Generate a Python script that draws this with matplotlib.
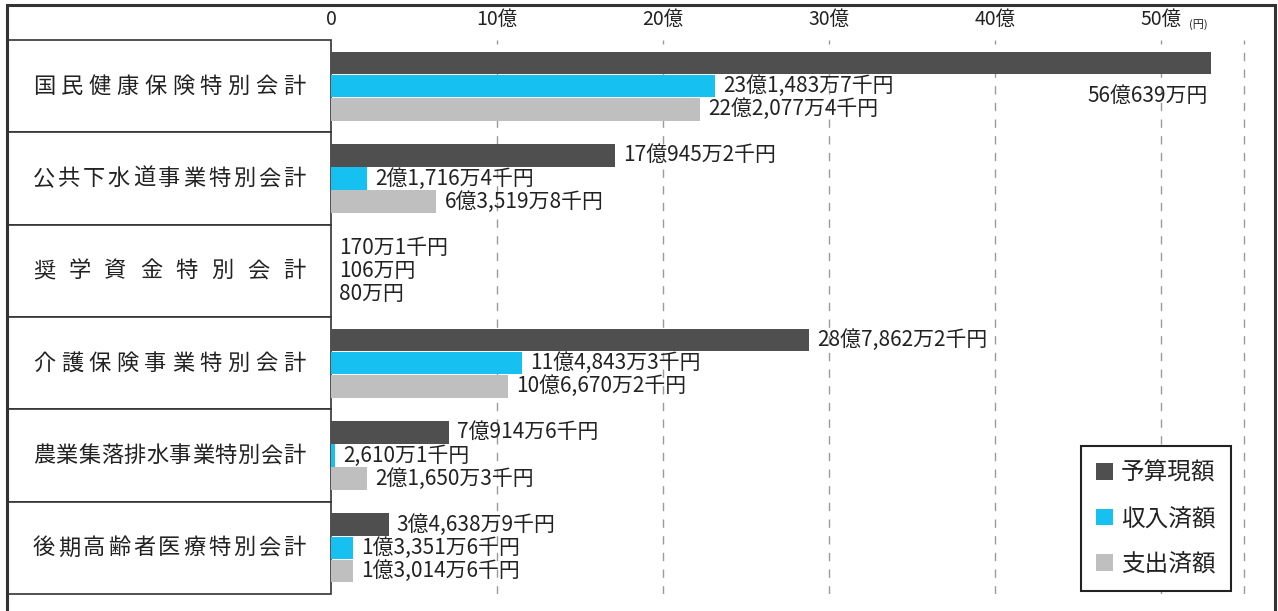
import matplotlib.pyplot as plt
from matplotlib.patches import Rectangle

plt.rcParams['font.family'] = ['Noto Sans CJK JP', 'DejaVu Sans']

#---------- datos (円) ----------
categories = ['国民健康保険特別会計', '公共下水道事業特別会計', '奨学資金特別会計',
              '介護保険事業特別会計', '農業集落排水事業特別会計', '後期高齢者医療特別会計']
series_names = ['予算現額', '収入済額', '支出済額']
budget = [5606390000, 1709452000, 1701000, 2878622000, 709146000, 346389000]
income = [2314837000, 217164000, 1060000, 1148433000, 26101000, 133516000]
expense = [2220774000, 635198000, 800000, 1066702000, 216503000, 130146000]
tick_values = [0, 10, 20, 30, 40, 50]
tick_labels = ['0', '10億', '20億', '30億', '40億', '50億']
grid_values = [10, 20, 30, 40, 50, 55]

colors = ['#4f4f4f', '#16c1f1', '#bfbfbf']
display_cap = 53.0          # la barra mas larga se corta en el dibujo
W, H = 1278, 611
px_per_oku = 16.6


def yen_label(v):
    oku, rest = divmod(v, 100000000)
    man, rest = divmod(rest, 10000)
    sen = rest // 1000
    s = ''
    if oku:
        s += f'{oku}億'
    if man:
        s += f'{man:,}万'
    if sen:
        s += f'{sen}千'
    return s + '円'


fig = plt.figure(figsize=(W / 100, H / 100), dpi=100)

#---------- marco y cajas de nombres (pixeles) ----------
bg = fig.add_axes([0, 0, 1, 1])
bg.set_xlim(0, W)
bg.set_ylim(H, 0)
bg.axis('off')
bg.plot([7, 7, 1275, 1275], [H, 5, 5, H], color='#333333', lw=2.2, solid_joinstyle='miter')

top, bottom = 40, 594
slot_h = (bottom - top) / len(categories)
for i, name in enumerate(categories):
    y0 = top + i * slot_h
    bg.add_patch(Rectangle((8, y0), 323, slot_h, fc='white', ec='#333333', lw=1.2))
    # nombre justificado (un caracter cada vez, con espaciado)
    x_first, x_last = 44, 294
    step = (x_last - x_first) / (len(name) - 1)
    for j, ch in enumerate(name):
        bg.text(x_first + j * step, y0 + slot_h / 2, ch, ha='center', va='center',
                fontsize=16, color='#222222')

#---------- barras ----------
ax = fig.add_axes([331 / W, 1 - bottom / H, (1275 - 331) / W, (bottom - top) / H])
ax.set_facecolor('none')
ax.set_xlim(0, (1275 - 331) / px_per_oku)
ax.set_ylim(len(categories) - 0.5, -0.5)
for s in ax.spines.values():
    s.set_visible(False)

for g in grid_values:
    ax.axvline(g, color='#9a9a9a', lw=1, ls=(0, (6, 6)), zorder=0)

bar_h = 0.245
handles = []
for k, vals in enumerate([budget, income, expense]):
    ys = [i + (k - 1) * 0.25 for i in range(len(categories))]
    widths = [min(v / 1e8, display_cap) for v in vals]
    h = ax.barh(ys, widths, height=bar_h, color=colors[k], zorder=2)
    handles.append(h)
    for y, w, v in zip(ys, widths, vals):
        if v / 1e8 > display_cap:
            ax.annotate(yen_label(v), (w, y + 0.36), xytext=(-2, 0), textcoords='offset points',
                        ha='right', va='center', fontsize=15, color='#222222')
        else:
            ax.annotate(yen_label(v), (w, y), xytext=(6, 0), textcoords='offset points',
                        ha='left', va='center', fontsize=15, color='#222222')

ax.xaxis.tick_top()
ax.set_xticks(tick_values, tick_labels)
ax.set_yticks([])
ax.tick_params(axis='x', length=0, pad=7, labelsize=14, labelcolor='#222222')
ax.annotate('(円)', (50, 1), xycoords=('data', 'axes fraction'), xytext=(20, 11),
            textcoords='offset points', fontsize=8, ha='left', va='center', color='#222222')

leg = ax.legend(handles, series_names, loc='lower right',
                bbox_to_anchor=(1231 / W, 1 - 591 / H), bbox_transform=fig.transFigure,
                borderaxespad=0, fancybox=False, edgecolor='#222222', framealpha=1,
                fontsize=17, handlelength=0.7, handleheight=0.7, handletextpad=0.35,
                labelspacing=0.95, borderpad=0.65)
leg.get_frame().set_linewidth(1.5)
for t in leg.get_texts():
    t.set_color('#222222')

fig.savefig('out.png', dpi=100)
